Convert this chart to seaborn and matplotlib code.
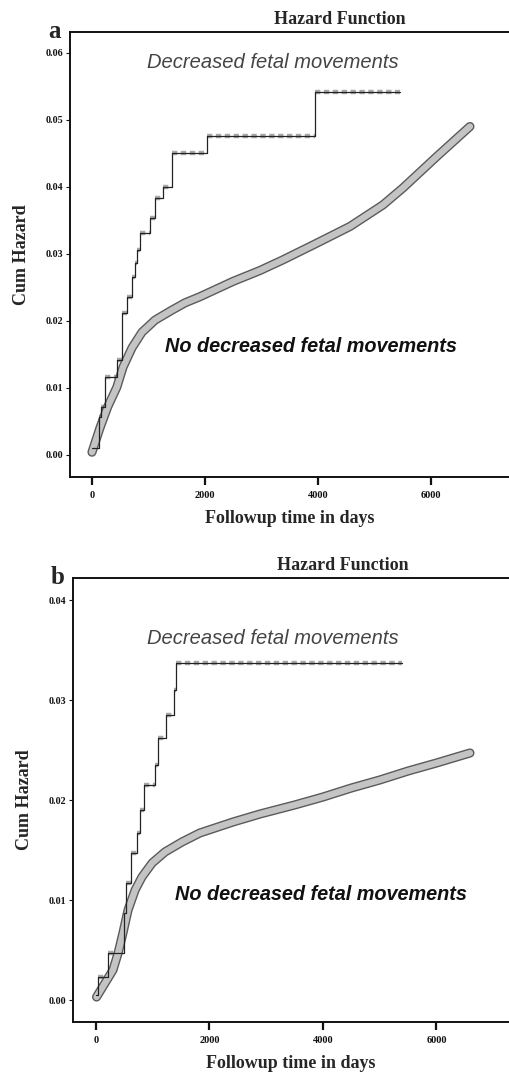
import numpy as np
import pandas as pd
import matplotlib
matplotlib.use("Agg")
import matplotlib.pyplot as plt
import matplotlib.patheffects as pe
import seaborn as sns

# ---------------- data ----------------
# Panel a: no decreased fetal movements (smooth cumulative hazard)
a_no_t = [0, 140, 280, 440, 550, 710, 885, 1115, 1415, 1650, 1910, 2500, 2970,
          3380, 3980, 4570, 5150, 5500, 6100, 6690]
a_no_h = [0.0004, 0.0040, 0.0072, 0.0101, 0.0131, 0.0160, 0.0183, 0.0201, 0.0216,
          0.0227, 0.0236, 0.0259, 0.0275, 0.0291, 0.0316, 0.0341, 0.0373, 0.0398,
          0.0445, 0.0490]
# Panel a: decreased fetal movements (step function)
a_dec_t = [0, 130, 154, 230, 440, 530, 620, 710, 760, 800, 850, 1030, 1115, 1255,
           1415, 2035, 3950, 5450]
a_dec_h = [0.0010, 0.0057, 0.0072, 0.0116, 0.0142, 0.0212, 0.0236, 0.0266, 0.0287,
           0.0306, 0.0331, 0.0354, 0.0384, 0.0400, 0.0451, 0.0476, 0.0542, 0.0542]

# Panel b: no decreased fetal movements
b_no_t = [10, 160, 300, 390, 475, 565, 690, 810, 990, 1215, 1515, 1830, 2415, 2890,
          3500, 4000, 4500, 5000, 5500, 6000, 6590]
b_no_h = [0.0003, 0.0017, 0.0030, 0.0047, 0.0067, 0.0090, 0.0110, 0.0123, 0.0137,
          0.0148, 0.0158, 0.0167, 0.0178, 0.0186, 0.0195, 0.0203, 0.0212, 0.0220,
          0.0229, 0.0237, 0.0247]
# Panel b: decreased fetal movements
b_dec_t = [0, 35, 210, 500, 530, 620, 720, 780, 850, 1040, 1095, 1235, 1375, 1410, 5400]
b_dec_h = [0.0005, 0.0023, 0.0047, 0.0087, 0.0117, 0.0147, 0.0167, 0.0190, 0.0215,
           0.0235, 0.0262, 0.0285, 0.0310, 0.0337, 0.0337]

x_ticks = [0, 2000, 4000, 6000]
x_tick_labels = ["0", "2000", "4000", "6000"]
a_y_ticks = [0.00, 0.01, 0.02, 0.03, 0.04, 0.05, 0.06]
b_y_ticks = [0.00, 0.01, 0.02, 0.03, 0.04]

title_text = "Hazard Function"
x_label = "Followup time in days"
y_label = "Cum Hazard"
label_dec = "Decreased fetal movements"
label_no = "No decreased fetal movements"

# ---------------- style ----------------
sns.set_style("ticks")
plt.rcParams["font.family"] = ["Liberation Serif", "DejaVu Serif"]

fig = plt.figure(figsize=(5.09, 10.74), dpi=100)

serif = "Liberation Serif"
sans = "Liberation Sans"


def draw_panel(ax, no_t, no_h, dec_t, dec_h, yticks, xlim, ylim, letter,
               title_x, dec_pos, no_pos, xlabelpad):
    # smooth thick curve
    sns.lineplot(x=no_t, y=no_h, ax=ax, estimator=None, color="#c4c4c4", lw=4.6,
                 path_effects=[pe.Stroke(linewidth=6.6, foreground="#5a5a5a"), pe.Normal()],
                 zorder=3)
    # censoring bands on flats of the step function
    dec_t_arr = np.asarray(dec_t)
    dec_h_arr = np.asarray(dec_h)
    ax.hlines(dec_h_arr[:-1], dec_t_arr[:-1], dec_t_arr[1:], colors="#a8a8a8",
              lw=3.2, linestyles=(0, (1.2, 0.8)), zorder=2)
    # step function
    sns.lineplot(x=dec_t, y=dec_h, ax=ax, estimator=None, color="#222222", lw=0.9,
                 drawstyle="steps-post", zorder=4)

    ax.set_xlim(*xlim)
    ax.set_ylim(*ylim)
    ax.set_xticks(x_ticks)
    ax.set_xticklabels(x_tick_labels)
    ax.set_yticks(yticks)
    ax.set_yticklabels([f"{v:.2f}" for v in yticks])
    ax.tick_params(axis="x", direction="out", length=6, width=1.6, pad=4,
                   labelsize=7.5, colors="#111111")
    ax.tick_params(axis="y", direction="out", length=3, width=0.8, pad=2,
                   labelsize=7.2, colors="#111111")
    for lab in ax.get_xticklabels() + ax.get_yticklabels():
        lab.set_fontfamily(serif)
        lab.set_fontweight("bold")
    for s in ["left", "top", "bottom"]:
        ax.spines[s].set_linewidth(1.4)
        ax.spines[s].set_color("#111111")
    ax.spines["right"].set_visible(False)

    ax.set_xlabel(x_label, fontsize=13, fontweight="bold", family=serif,
                  labelpad=xlabelpad)
    ax.set_ylabel(y_label, fontsize=13, fontweight="bold", family=serif, labelpad=11)

    ax.text(title_x, 1.008, title_text, transform=ax.transAxes, ha="center",
            va="bottom", fontsize=13, fontweight="bold", family=serif)
    ax.text(-0.02, 1.0, letter, transform=ax.transAxes, ha="right", va="center",
            fontsize=18, fontweight="bold", family=serif)

    ax.text(dec_pos[0], dec_pos[1], label_dec, transform=ax.transAxes, ha="left",
            va="center", fontsize=14.5, style="italic", family=sans, color="#444444")
    ax.text(no_pos[0], no_pos[1], label_no, transform=ax.transAxes, ha="left",
            va="center", fontsize=14.3, style="italic", fontweight="bold", family=sans,
            color="#111111")


# Panel a
ax_a = fig.add_axes([70 / 509, 1 - 477 / 1074, 1 - 70 / 509, (477 - 32) / 1074])
draw_panel(ax_a, a_no_t, a_no_h, a_dec_t, a_dec_h, a_y_ticks,
           xlim=(-389, 7381), ylim=(-0.0033, 0.0631), letter="a",
           title_x=(340 - 70) / 439,
           dec_pos=((147 - 70) / 439, (477 - 63) / 445),
           no_pos=((165 - 70) / 439, (477 - 347) / 445), xlabelpad=7)

# Panel b
ax_b = fig.add_axes([73 / 509, 1 - 1022 / 1074, 1 - 73 / 509, (1022 - 578) / 1074])
draw_panel(ax_b, b_no_t, b_no_h, b_dec_t, b_dec_h, b_y_ticks,
           xlim=(-405, 7278), ylim=(-0.0022, 0.0422), letter="b",
           title_x=(343 - 73) / 436,
           dec_pos=((147 - 73) / 436, (1022 - 638) / 444),
           no_pos=((175 - 73) / 436, (1022 - 895) / 444), xlabelpad=7)

fig.savefig("out.png", dpi=100)
